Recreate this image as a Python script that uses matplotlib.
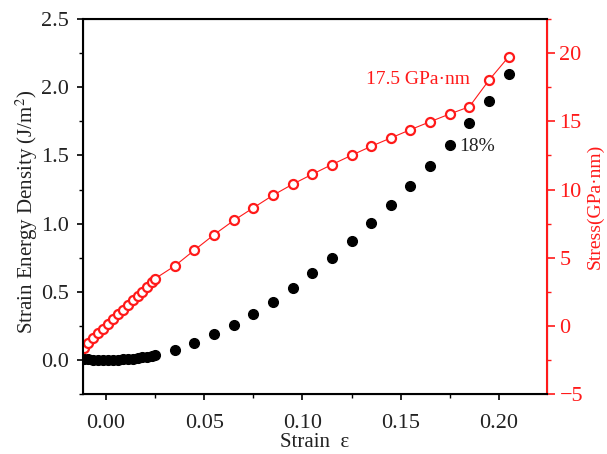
import numpy as np
import matplotlib
matplotlib.use("Agg")
import matplotlib.pyplot as plt
from matplotlib.ticker import MultipleLocator

plt.rcParams['font.family'] = ['Liberation Serif', 'DejaVu Serif']
plt.rcParams['mathtext.fontset'] = 'stix'

# strain values
strain = [-0.0115, -0.009, -0.0065, -0.004, -0.0015, 0.001, 0.0035, 0.006,
          0.0085, 0.011, 0.0135, 0.016, 0.0185, 0.021, 0.0235, 0.025,
          0.035, 0.045, 0.055, 0.065, 0.075, 0.085, 0.095, 0.105, 0.115,
          0.125, 0.135, 0.145, 0.155, 0.165, 0.175, 0.185, 0.195, 0.205]

# strain energy density (J/m^2)
energy = [0.007, 0.004, 0.002, 0.001, 0.000, 0.000, 0.001, 0.002,
          0.004, 0.007, 0.010, 0.014, 0.019, 0.025, 0.031, 0.037,
          0.073, 0.122, 0.188, 0.257, 0.337, 0.428, 0.530, 0.636, 0.750,
          0.875, 1.002, 1.136, 1.278, 1.425, 1.576, 1.735, 1.899, 2.097]

# stress (GPa nm)
stress = [-1.63, -1.25, -0.90, -0.55, -0.20, 0.15, 0.50, 0.85,
          1.20, 1.55, 1.88, 2.20, 2.52, 2.85, 3.20, 3.47,
          4.40, 5.56, 6.69, 7.73, 8.66, 9.58, 10.39, 11.12, 11.83,
          12.51, 13.17, 13.78, 14.39, 14.97, 15.54, 16.07, 18.02, 19.73]

red = '#ff1a1a'
ink = '#222222'

fig = plt.figure(figsize=(6.07, 4.54), dpi=100)
ax = fig.add_axes([0.136, 0.132, 0.765, 0.826])
ax2 = ax.twinx()

ax.plot(strain, energy, 'o', color='black', markersize=7, zorder=3)
ax2.plot(strain, stress, '-o', color=red, lw=0.8, markersize=6.5,
         markerfacecolor='white', markeredgecolor=red, markeredgewidth=1.6)

ax.set_xlim(-0.012, 0.2245)
ax.set_ylim(-0.25, 2.5)
ax2.set_ylim(-5, 22.5)

ax.xaxis.set_major_locator(MultipleLocator(0.05))
ax.xaxis.set_minor_locator(MultipleLocator(0.025))
ax.yaxis.set_major_locator(MultipleLocator(0.5))
ax.yaxis.set_minor_locator(MultipleLocator(0.25))
ax2.yaxis.set_major_locator(MultipleLocator(5))
ax2.yaxis.set_minor_locator(MultipleLocator(2.5))

ax.xaxis.set_major_formatter(plt.FuncFormatter(lambda v, p: f"{v:.2f}"))
ax.yaxis.set_major_formatter(plt.FuncFormatter(lambda v, p: f"{v:.1f}"))

ax.tick_params(axis='both', which='major', direction='out', length=4.5,
               width=1.2, labelsize=16, labelcolor=ink, pad=5)
ax.tick_params(axis='x', which='major', pad=10)
ax.tick_params(axis='both', which='minor', direction='out', length=3,
               width=1.0)
ax2.tick_params(axis='y', which='major', direction='out', length=5.5,
                width=1.2, labelsize=16, colors=red, pad=3.5)
ax2.tick_params(axis='y', which='minor', direction='out', length=3,
                width=1.0, colors=red)

for s in ['left', 'bottom', 'top']:
    ax2.spines[s].set_linewidth(1.5)
ax2.spines['right'].set_color(red)
ax2.spines['right'].set_linewidth(1.5)

ax.set_xlabel('Strain  ε', fontsize=15, color=ink)
ax.xaxis.set_label_coords(0.5, -0.104)
ax.set_ylabel('Strain Energy Density (J/m$^2$)', fontsize=15, color=ink)
ax.yaxis.set_label_coords(-0.092, 0.485)
ax2.set_ylabel('Stress(GPa·nm)', fontsize=14, color=red)
ax2.yaxis.set_label_coords(1.085, 0.5)

ax2.text(0.1853, 18.05, '17.5 GPa·nm', color=red, fontsize=14,
         ha='right', va='center')
ax.text(0.1797, 1.564, '18%', color=ink, fontsize=14,
        ha='left', va='center')

fig.savefig('out.png', dpi=100)
